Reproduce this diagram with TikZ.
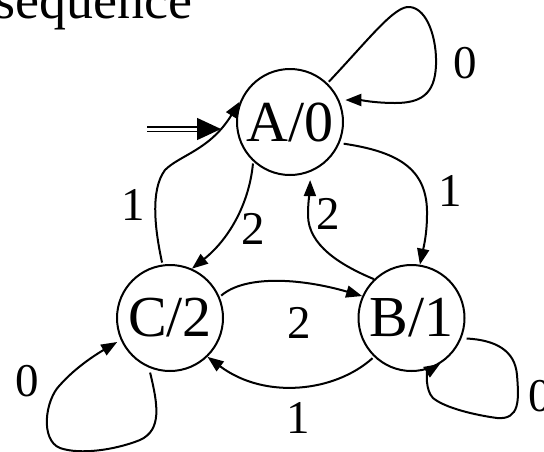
\documentclass[tikz,border=0pt]{standalone}
\usepackage{fontspec}
\setmainfont{Liberation Serif}
\usetikzlibrary{arrows.meta}
\tikzset{
  state/.style={circle, draw, line width=2pt, minimum size=106pt, inner sep=0pt,
    font=\fontsize{58}{60}\selectfont},
  lbl/.style={inner sep=0pt, font=\fontsize{47}{48}\selectfont},
  edge/.style={line width=2pt, -{Triangle[length=16pt,width=12pt]}},
}
\begin{document}
\begin{tikzpicture}[x=1pt,y=-1pt]
\useasboundingbox (0,0) rectangle (544,451);
% title fragment
\node[inner sep=0pt, anchor=base east, font=\fontsize{54}{56}\selectfont] (title) at (193,18) {sequence};
% states
\node[state] (A) at (290,122) {A/0};
\node[state] (C) at (170,318) {C/2};
\node[state] (B) at (411.5,318) {B/1};
% start arrow
\coordinate (s) at (147,129);
\draw[double, double distance=3pt, line width=1.4pt, -{Triangle[length=24pt,width=22pt]}, shorten >=15pt] (s) -- (A.west |- s);
% self loop A
\draw[edge, shorten <=2pt, shorten >=6pt] (A.46) .. controls (370,38) and (395,5) .. (410,7)
  .. controls (428,9) and (437,40) .. (436,65)
  .. controls (435,95) and (420,103) .. (395,103)
  .. controls (375,103) and (360,100) .. (A.24);
\node[lbl] (l0a) at (465,63) {0};
% self loop C
\draw[edge, shorten <=5pt, shorten >=4pt] (C.247) .. controls (158,405) and (162,430) .. (140,440)
  .. controls (115,450) and (80,455) .. (60,448)
  .. controls (40,440) and (45,400) .. (60,385)
  .. controls (75,368) and (95,355) .. (C.204);
\node[lbl] (l0c) at (27,381) {0};
% self loop B
\draw[edge, shorten <=5pt] (B.-22) .. controls (495,340) and (515,350) .. (517,375)
  .. controls (519,400) and (520,420) .. (497,418)
  .. controls (475,415) and (445,408) .. (433,398)
  .. controls (425,390) and (427,372) .. (B.-58);
\node[lbl] (l0b) at (540,396) {0};
% A -> B
\draw[edge, shorten <=4pt] (A.-23) .. controls (400,152) and (428,170) .. (427,215)
  .. controls (427,235) and (423,250) .. (B.81);
\node[lbl] (l1ab) at (450,191) {1};
% C -> A
\draw[edge, shorten <=2pt, shorten >=2pt] (C.98) .. controls (155,230) and (150,190) .. (165,170)
  .. controls (180,155) and (210,150) .. (A.156);
\node[lbl] (l1ca) at (133,205) {1};
% A -> C
\draw[edge, shorten <=2pt] (A.227) .. controls (249,205) and (228,240) .. (C.66);
\node[lbl] (l2ac) at (253,229) {2};
% B -> A
\draw[edge, shorten >=8pt] (B.134) .. controls (340,265) and (308,245) .. (308,215)
  .. controls (308,200) and (310,190) .. (A.-68);
\node[lbl] (l2ba) at (328,214) {2};
% C -> B
\draw[edge, shorten <=2pt] (C.23) .. controls (245,275) and (300,278) .. (B.156);
\node[lbl] (l2cb) at (299,323) {2};
% B -> C
\draw[edge, shorten <=2pt] (B.226) .. controls (335,392) and (265,400) .. (C.-46);
\node[lbl] (l1bc) at (298,418) {1};
\end{tikzpicture}
\end{document}
